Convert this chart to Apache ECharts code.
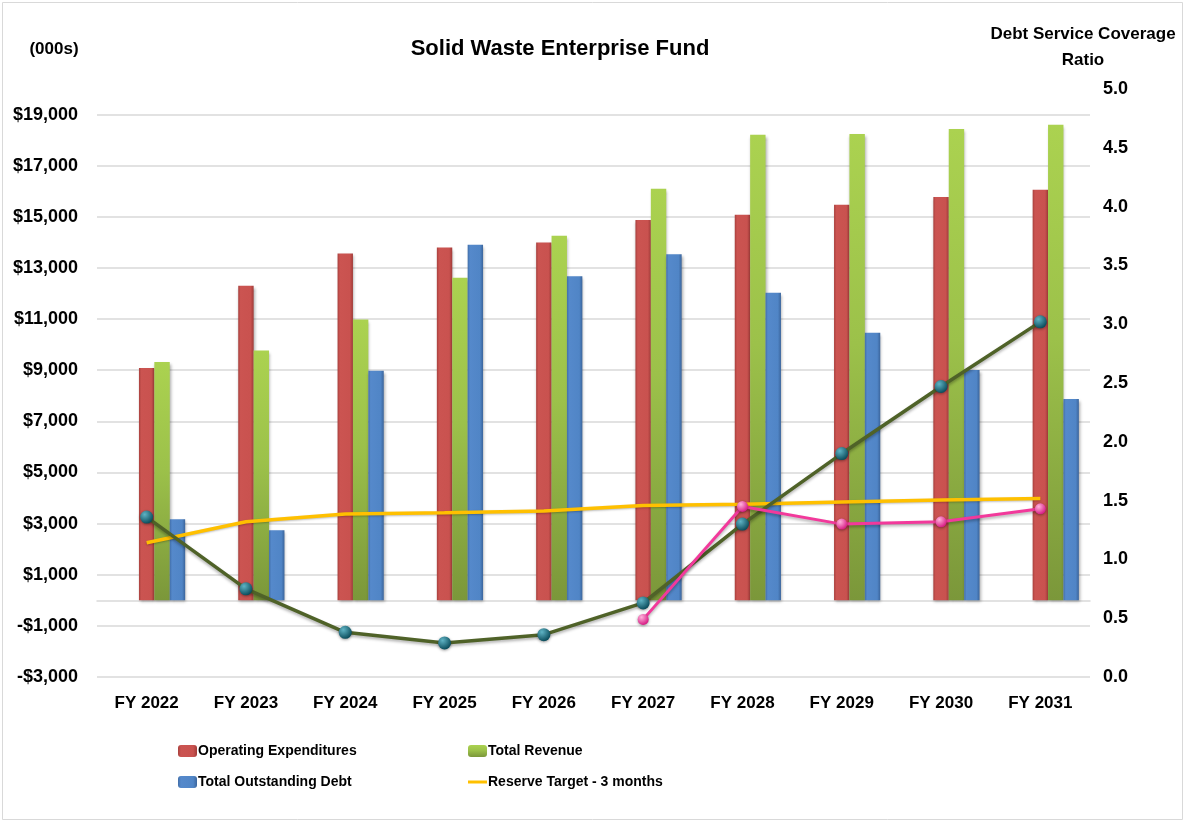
<!DOCTYPE html>
<html>
<head>
<meta charset="utf-8">
<title>Solid Waste Enterprise Fund</title>
<script src="https://cdn.jsdelivr.net/npm/echarts@6/dist/echarts.min.js"></script>
<style>
  html, body { margin: 0; padding: 0; background: #fff; }
  #chart { width: 1185px; height: 822px; }
</style>
</head>
<body>
<div id="chart"></div>
<script>
  // values in thousands of dollars, ratio on the right axis
  let years = ['FY 2022', 'FY 2023', 'FY 2024', 'FY 2025', 'FY 2026', 'FY 2027', 'FY 2028', 'FY 2029', 'FY 2030', 'FY 2031']
  let operatingExpenditures = [9085, 12300, 13570, 13800, 14000, 14880, 15080, 15470, 15780, 16060]
  let totalRevenue = [9320, 9770, 10980, 12620, 14260, 16100, 18210, 18240, 18440, 18600]
  let totalOutstandingDebt = [3170, 2740, 8980, 13910, 12680, 13540, 12030, 10470, 9010, 7870]
  let reserveTarget = [2250, 3070, 3380, 3420, 3490, 3710, 3760, 3850, 3920, 3980]
  let coverageRatio = [1.36, 0.75, 0.38, 0.29, 0.36, 0.63, 1.30, 1.90, 2.47, 3.02]
  let coverageRatio2 = [null, null, null, null, null, 0.49, 1.45, 1.30, 1.32, 1.43]

  let font = "'Liberation Sans', Arial, sans-serif"
  let textColor = '#000'

  let hGrad = function (stops) {
    return new echarts.graphic.LinearGradient(0, 0, 1, 0, stops.map((c) => ({ offset: c[0], color: c[1] })))
  }
  let vGrad = function (stops) {
    return new echarts.graphic.LinearGradient(0, 0, 0, 1, stops.map((c) => ({ offset: c[0], color: c[1] })))
  }
  let sphere = function (light, dark) {
    return new echarts.graphic.RadialGradient(0.35, 0.3, 0.7, [
      { offset: 0, color: light },
      { offset: 1, color: dark }
    ])
  }

  let barShadow = {
    shadowBlur: 3,
    shadowColor: 'rgba(0, 0, 0, 0.35)',
    shadowOffsetX: 1,
    shadowOffsetY: 2
  }

  // only the odd thousands get a label, like the original
  let fmtMoney = function (v) {
    let k = Math.round(v / 1000)
    if (Math.abs(k) % 2 !== 1) return ''
    let s = Math.abs(v).toLocaleString('en-US')
    return (v < 0 ? '-$' : '$') + s
  }

  let legendText = { fontFamily: font, fontSize: 14, fontWeight: 'bold', color: textColor, padding: [0, 0, 0, -4] }

  let myChart = echarts.init(document.getElementById('chart'))
  let option = {
    backgroundColor: '#fff',
    animation: false,
    textStyle: { fontFamily: font },
    graphic: [
      {
        type: 'rect',
        shape: { x: 2.5, y: 2.5, width: 1180, height: 817 },
        style: { fill: 'none', stroke: '#d9d9d9', lineWidth: 1 },
        silent: true
      }
    ],
    title: [
      {
        text: 'Solid Waste Enterprise Fund',
        left: 555, top: 33, textAlign: 'center',
        textStyle: { fontFamily: font, fontSize: 22, fontWeight: 'bold', color: textColor }
      },
      {
        text: '(000s)',
        left: 49, top: 36, textAlign: 'center',
        textStyle: { fontFamily: font, fontSize: 17, fontWeight: 'bold', color: textColor }
      },
      {
        text: 'Debt Service Coverage\nRatio',
        left: 1078, top: 16, textAlign: 'center',
        textStyle: { fontFamily: font, fontSize: 17, fontWeight: 'bold', color: textColor, lineHeight: 26, align: 'center' }
      }
    ],
    legend: [
      {
        data: ['Operating Expenditures', 'Total Outstanding Debt'],
        orient: 'vertical',
        left: 173, top: 739,
        itemWidth: 19, itemHeight: 12, itemGap: 17,
        textStyle: legendText
      },
      {
        data: [
          'Total Revenue',
          { name: 'Reserve Target - 3 months', icon: 'path://M0,0H19V3H0Z' }
        ],
        orient: 'vertical',
        left: 463, top: 739,
        itemWidth: 19, itemHeight: 12, itemGap: 17,
        symbolKeepAspect: true,
        textStyle: legendText
      }
    ],
    grid: { left: 97, right: 95, top: 89, bottom: 145, containLabel: false },
    xAxis: [
      {
        type: 'category',
        data: years,
        axisLine: { show: false, onZero: false },
        axisTick: { show: false },
        axisLabel: { margin: 18, fontFamily: font, fontSize: 17, fontWeight: 'bold', color: textColor }
      },
      {
        // zero line only
        type: 'category',
        data: years,
        position: 'bottom',
        axisLine: { show: true, onZero: true, onZeroAxisIndex: 0, lineStyle: { color: '#d9d9d9', width: 1.5 } },
        axisTick: { show: false },
        axisLabel: { show: false }
      }
    ],
    yAxis: [
      {
        type: 'value',
        min: -3000,
        max: 20000,
        interval: 1000,
        axisLine: { show: false },
        axisTick: { show: false },
        splitLine: { show: true, lineStyle: { color: ['#d9d9d9', 'rgba(0,0,0,0)'], width: 1.5 } },
        axisLabel: {
          margin: 19, fontFamily: font, fontSize: 18, fontWeight: 'bold', color: textColor,
          formatter: fmtMoney
        }
      },
      {
        type: 'value',
        min: 0,
        max: 5,
        interval: 0.5,
        position: 'right',
        axisLine: { show: false },
        axisTick: { show: false },
        splitLine: { show: false },
        axisLabel: {
          margin: 13, fontFamily: font, fontSize: 18, fontWeight: 'bold', color: textColor,
          formatter: (v) => v.toFixed(1)
        }
      }
    ],
    series: [
      // two empty slots so the red bar sits on the category centre
      { type: 'bar', name: 'pad1', data: [], barWidth: 15.4, barGap: '0%' },
      { type: 'bar', name: 'pad2', data: [], barWidth: 15.4, barGap: '0%' },
      {
        type: 'bar',
        name: 'Operating Expenditures',
        data: operatingExpenditures,
        barWidth: 15.4,
        barGap: '0%',
        itemStyle: Object.assign({
          color: hGrad([[0, '#a8403d'], [0.15, '#cb5451'], [0.8, '#c9524f'], [1, '#a13c39']])
        }, barShadow)
      },
      {
        type: 'bar',
        name: 'Total Revenue',
        data: totalRevenue,
        barWidth: 15.4,
        barGap: '0%',
        itemStyle: Object.assign({
          color: vGrad([[0, '#abd250'], [0.45, '#9cc14a'], [1, '#7b973a']])
        }, barShadow)
      },
      {
        type: 'bar',
        name: 'Total Outstanding Debt',
        data: totalOutstandingDebt,
        barWidth: 15.4,
        barGap: '0%',
        itemStyle: Object.assign({
          color: hGrad([[0, '#416ea8'], [0.15, '#5589cb'], [0.8, '#5085c6'], [1, '#3b659c']])
        }, barShadow)
      },
      {
        type: 'line',
        name: 'Reserve Target - 3 months',
        data: reserveTarget,
        yAxisIndex: 0,
        symbol: 'none',
        lineStyle: { color: '#ffc000', width: 3.5, shadowBlur: 2, shadowColor: 'rgba(0,0,0,0.25)', shadowOffsetY: 1 },
        itemStyle: { color: '#ffc000' }
      },
      {
        type: 'line',
        name: 'Debt Service Coverage Ratio',
        data: coverageRatio,
        yAxisIndex: 1,
        symbol: 'circle',
        symbolSize: 13,
        lineStyle: { color: '#4f6228', width: 3.5, shadowBlur: 3, shadowColor: 'rgba(0,0,0,0.3)', shadowOffsetY: 2 },
        itemStyle: { color: sphere('#5fb3c4', '#0d4f5e'), borderWidth: 0, shadowBlur: 3, shadowColor: 'rgba(0,0,0,0.4)', shadowOffsetY: 1 }
      },
      {
        type: 'line',
        name: 'Debt Service Coverage Ratio 2',
        data: coverageRatio2,
        yAxisIndex: 1,
        symbol: 'circle',
        symbolSize: 11,
        lineStyle: { color: '#f2399b', width: 3, shadowBlur: 3, shadowColor: 'rgba(0,0,0,0.3)', shadowOffsetY: 2 },
        itemStyle: { color: sphere('#ffb3dc', '#d81f86'), borderWidth: 0, shadowBlur: 3, shadowColor: 'rgba(0,0,0,0.4)', shadowOffsetY: 1 }
      }
    ]
  }
  myChart.setOption(option)
</script>
</body>
</html>
